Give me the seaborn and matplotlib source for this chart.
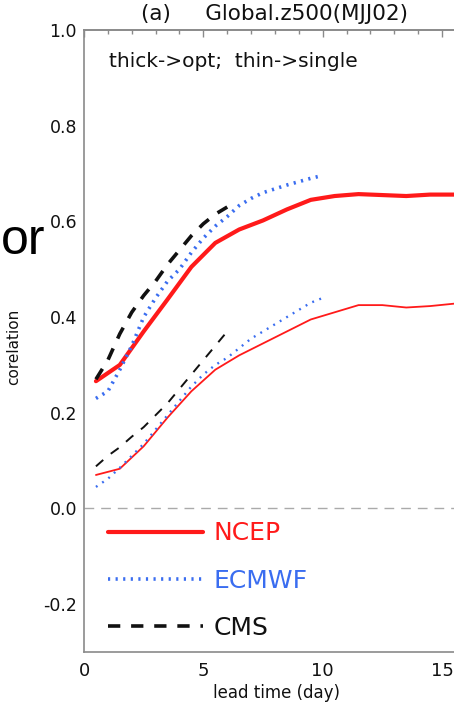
import numpy as np
import pandas as pd
import seaborn as sns
import matplotlib
matplotlib.use("Agg")
import matplotlib.pyplot as plt
from matplotlib.lines import Line2D
from matplotlib.ticker import MultipleLocator, FormatStrFormatter

# ---------------- data ----------------
lead_ncep = [0.5, 1.5, 2.5, 3.5, 4.5, 5.5, 6.5, 7.5, 8.5, 9.5, 10.5, 11.5, 12.5, 13.5, 14.5, 15.5]
ncep_opt = [0.266, 0.30, 0.37, 0.437, 0.505, 0.555, 0.583, 0.602, 0.625, 0.645, 0.653, 0.657, 0.655, 0.653, 0.656, 0.656]
ncep_single = [0.07, 0.083, 0.13, 0.19, 0.245, 0.29, 0.32, 0.345, 0.37, 0.395, 0.41, 0.425, 0.425, 0.42, 0.423, 0.428]

lead_ecmwf = [0.5, 1.0, 1.5, 2.0, 2.5, 3.0, 3.5, 4.0, 4.5, 5.0, 5.5, 6.0, 6.5, 7.0, 7.5, 8.0, 8.5, 9.0, 9.5, 10.0]
ecmwf_opt = [0.23, 0.245, 0.29, 0.34, 0.40, 0.44, 0.475, 0.50, 0.535, 0.565, 0.59, 0.61, 0.633, 0.648, 0.66, 0.668, 0.676, 0.683, 0.69, 0.696]
ecmwf_single = [0.045, 0.062, 0.085, 0.11, 0.135, 0.165, 0.195, 0.225, 0.255, 0.28, 0.30, 0.315, 0.335, 0.355, 0.37, 0.385, 0.40, 0.415, 0.43, 0.44]

lead_cms = [0.5, 1.0, 1.5, 2.0, 2.5, 3.0, 3.5, 4.0, 4.5, 5.0, 5.5, 6.0]
cms_opt = [0.27, 0.31, 0.365, 0.41, 0.445, 0.475, 0.51, 0.54, 0.57, 0.595, 0.615, 0.63]
cms_single = [0.088, 0.11, 0.128, 0.15, 0.17, 0.195, 0.22, 0.25, 0.28, 0.31, 0.34, 0.37]

models = ["NCEP", "ECMWF", "CMS"]
y_ticks = [-0.2, 0.0, 0.2, 0.4, 0.6, 0.8, 1.0]
x_ticks = [0, 5, 10, 15]

# ---------------- style ----------------
sns.set_theme(style="white")
plt.rcParams["font.family"] = ["DejaVu Sans"]
plt.rcParams["axes.unicode_minus"] = False

RED = "#ff1a1a"
BLUE = "#3a6df0"
BLACK = "#111111"
GRAY = "#8a8a8a"
TXT = "#111111"

fig = plt.figure(figsize=(4.54, 7.03), dpi=100)
ax = fig.add_axes([84 / 454, 1 - 652 / 703, 1 - 84 / 454, (652 - 30) / 703])

# (thick style, thin style) per model: color, lw, linestyle
styles = {
    "NCEP": (dict(color=RED, lw=3.0, ls="-"), dict(color=RED, lw=1.3, ls="-")),
    "ECMWF": (dict(color=BLUE, lw=2.6, ls=(0, (0.6, 1.5))), dict(color=BLUE, lw=1.7, ls=(0, (0.8, 2.4)))),
    "CMS": (dict(color=BLACK, lw=2.6, ls=(0, (3.4, 3.0))), dict(color=BLACK, lw=1.4, ls=(0, (5, 5)))),
}

series = [
    ("NCEP", lead_ncep, ncep_opt, ncep_single),
    ("ECMWF", lead_ecmwf, ecmwf_opt, ecmwf_single),
    ("CMS", lead_cms, cms_opt, cms_single),
]

ax.axhline(0.0, color="#aaaaaa", lw=1.0, ls=(0, (7, 5)), zorder=1)

for name, x, opt, single in series:
    thick, thin = styles[name]
    df = pd.DataFrame({"lead": x, "opt": opt, "single": single})
    sns.lineplot(data=df, x="lead", y="opt", ax=ax, color=thick["color"], lw=thick["lw"],
                 linestyle=thick["ls"], zorder=3)
    sns.lineplot(data=df, x="lead", y="single", ax=ax, color=thin["color"], lw=thin["lw"],
                 linestyle=thin["ls"], zorder=3)

ax.set_xlim(0, 15.5)
ax.set_ylim(-0.3, 1.0)
ax.xaxis.set_minor_locator(MultipleLocator(1))
ax.yaxis.set_minor_locator(MultipleLocator(0.05))
ax.set_xticks(x_ticks)
ax.set_yticks(y_ticks)
ax.yaxis.set_major_formatter(FormatStrFormatter("%.1f"))

ax.tick_params(axis="x", which="major", direction="in", length=8.5, width=1, color=GRAY,
               labelsize=13, pad=7, labelcolor=TXT)
ax.tick_params(axis="x", which="minor", direction="in", length=3.6, width=1, color=GRAY)
ax.tick_params(axis="y", which="major", direction="in", length=4.5, width=1, color=GRAY,
               labelsize=12.5, pad=5, labelcolor=TXT)
ax.tick_params(axis="y", which="minor", direction="in", length=2.8, width=1, color=GRAY)

top = ax.secondary_xaxis("top")
top.set_xticks(x_ticks)
top.xaxis.set_minor_locator(MultipleLocator(1))
top.tick_params(axis="x", which="major", direction="in", length=5, width=1, color=GRAY, labeltop=False)
top.tick_params(axis="x", which="minor", direction="in", length=3, width=1, color=GRAY)
top.spines["top"].set_color(GRAY)
top.spines["top"].set_linewidth(1.2)

for s in ["left", "bottom", "top"]:
    ax.spines[s].set_color(GRAY)
    ax.spines[s].set_linewidth(1.2)
ax.spines["right"].set_visible(False)

ax.set_xlabel("lead time (day)", fontsize=12, color=TXT)
ax.xaxis.set_label_coords(0.519, -0.051)
ax.set_ylabel("corelation", fontsize=11, color=TXT)
ax.yaxis.set_label_coords(-0.17, 0.49)

ax.text(0.514, 1.016, "(a)     Global.z500(MJJ02)", transform=ax.transAxes,
        fontsize=15.5, color=TXT, ha="center", va="baseline")

ax.text(0.0676, 0.9405, "thick->opt;  thin->single", transform=ax.transAxes,
        fontsize=14.5, color=TXT, va="baseline", ha="left")

# partially visible text from neighbouring panel
fig.text(0.002, 1 - 241 / 703, "or", fontsize=36, color="black", va="center", ha="left",
         family="Liberation Sans")

handles = [
    Line2D([], [], **{"color": RED, "lw": 3.0, "ls": "-"}),
    Line2D([], [], **{"color": BLUE, "lw": 2.6, "ls": (0, (0.6, 1.5))}),
    Line2D([], [], **{"color": BLACK, "lw": 2.6, "ls": (0, (3.4, 3.0))}),
]
leg = ax.legend(handles, models, loc="upper left", bbox_to_anchor=(0.064, 0.21),
                frameon=False, fontsize=18, handlelength=3.8, handletextpad=0.45,
                labelspacing=0.93, borderpad=0, borderaxespad=0)
for txt, c in zip(leg.get_texts(), [RED, BLUE, TXT]):
    txt.set_color(c)

fig.savefig("out.png", dpi=100)
